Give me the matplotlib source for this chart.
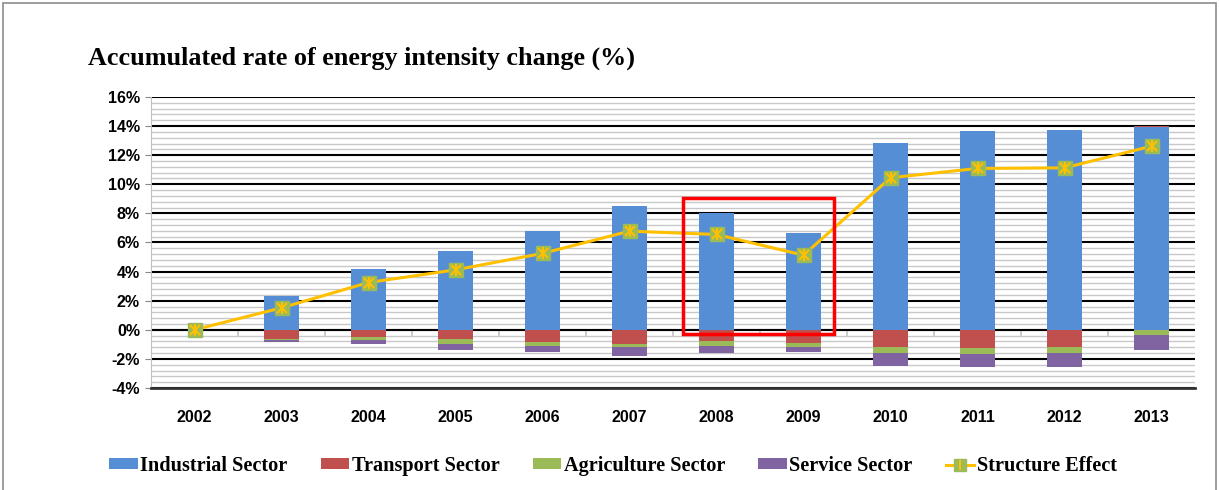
import numpy as np
import matplotlib.pyplot as plt
from matplotlib.patches import Rectangle
from matplotlib.lines import Line2D

plt.switch_backend('agg')

# data (percent)
years = ['2002', '2003', '2004', '2005', '2006', '2007', '2008', '2009', '2010', '2011', '2012', '2013']
industrial = [0.0, 2.3, 4.2, 5.4, 6.76, 8.54, 8.06, 6.62, 12.87, 13.65, 13.72, 13.93]
transport = [0.0, -0.64, -0.48, -0.66, -0.87, -0.96, -0.80, -0.94, -1.19, -1.28, -1.21, 0.05]
agriculture = [0.0, -0.07, -0.25, -0.32, -0.25, -0.25, -0.32, -0.27, -0.41, -0.37, -0.39, -0.39]
service = [0.0, -0.14, -0.27, -0.39, -0.41, -0.60, -0.48, -0.32, -0.89, -0.92, -0.96, -1.03]
structure = [0.0, 1.51, 3.25, 4.12, 5.25, 6.78, 6.55, 5.13, 10.45, 11.09, 11.13, 12.62]

labels = ['Industrial Sector', 'Transport Sector', 'Agriculture Sector', 'Service Sector', 'Structure Effect']
colors = ['#558ED5', '#C0504D', '#9BBB59', '#8064A2']
line_color = '#FFC000'

fig = plt.figure(figsize=(12.19, 4.9), dpi=100)
ax = fig.add_axes([151 / 1219, 1 - 388 / 490, (1195 - 151) / 1219, (388 - 97) / 490])

x = np.arange(len(years))
width = 0.4

# stack positives upward and negatives downward
pos_base = np.zeros(len(years))
neg_base = np.zeros(len(years))
bar_handles = []
for vals, col, lab in zip([industrial, transport, agriculture, service], colors, labels[:4]):
    vals = np.array(vals)
    base = np.where(vals >= 0, pos_base, neg_base)
    b = ax.bar(x, vals, width, bottom=base, color=col, label=lab, zorder=3,
               edgecolor='none')
    bar_handles.append(b)
    pos_base += np.where(vals >= 0, vals, 0)
    neg_base += np.where(vals < 0, vals, 0)

# structure effect line with green square + yellow asterisk markers
ax.plot(x, structure, color=line_color, lw=2.2, zorder=4)
ax.plot(x, structure, 's', color='#9BBB59', ms=9.5, mec='#9BBB59', zorder=5)
ax.plot(x, structure, 'x', color=line_color, ms=7, mew=1.5, zorder=6)
ax.plot(x, structure, '|', color=line_color, ms=8, mew=1.5, zorder=6)

# axes and grid
ax.set_xlim(-0.5, len(years) - 0.5)
ax.set_ylim(-4, 16)
ax.set_yticks(np.arange(-4, 17, 2))
ax.set_yticks(np.arange(-4, 16.01, 0.4), minor=True)
ax.set_yticklabels([f'{v}%' for v in range(-4, 17, 2)], fontsize=11.5, fontweight='bold',
                   family='Liberation Sans')
ax.tick_params(axis='y', which='major', length=4, color='#888888', pad=4)
ax.tick_params(axis='y', which='minor', length=0)
ax.grid(which='minor', axis='y', color='#c8c8c8', lw=1.0, zorder=0)
ax.grid(which='major', axis='y', color='black', lw=1.5, zorder=1)
ax.axhline(0, color='#c0c0c0', lw=1.6, zorder=1.5)
for bx in np.arange(0.5, len(years) - 0.5, 1):
    ax.plot([bx, bx], [0, -0.35], color='#c0c0c0', lw=1.2, zorder=1.5)

ax.set_xticks(x)
ax.set_xticklabels(years, fontsize=11.5, fontweight='bold', family='Liberation Sans')
ax.tick_params(axis='x', length=0, pad=16)

for side in ['top', 'right']:
    ax.spines[side].set_visible(False)
ax.spines['left'].set_color('#bfbfbf')
ax.spines['bottom'].set_color('#333333')
ax.spines['bottom'].set_linewidth(2)

# red highlight box around 2008-2009
ax.add_patch(Rectangle((5.61, -0.32), 1.74, 9.41, fill=False, edgecolor='red', lw=2.5,
                       zorder=7, clip_on=False))

# title
fig.text(88 / 1219, 1 - 58 / 490, 'Accumulated rate of energy intensity change (%)',
         fontsize=18.8, fontweight='bold', family='Liberation Serif', va='center', ha='left')

# legend
line_handle = (Line2D([], [], color=line_color, lw=2.2),
               Line2D([], [], marker='s', color='#9BBB59', ms=8, ls='none'),
               Line2D([], [], marker='|', color=line_color, ms=7, mew=1.5, ls='none'))
handles = bar_handles + [line_handle]
leg = fig.legend(handles, labels, loc='center', bbox_to_anchor=(613 / 1219, 1 - 466 / 490),
                 ncol=5, frameon=False, handlelength=1.4, handleheight=0.45,
                 handletextpad=0.12, columnspacing=1.65,
                 prop={'family': 'Liberation Serif', 'weight': 'bold', 'size': 14.6})

# figure border
fig.patches.append(Rectangle((3 / 1219, -0.01), 1213 / 1219, 1 - 3 / 490 + 0.01,
                             transform=fig.transFigure, fill=False, edgecolor='#8c8c8c',
                             lw=1.2))

plt.savefig('out.png', dpi=100)
